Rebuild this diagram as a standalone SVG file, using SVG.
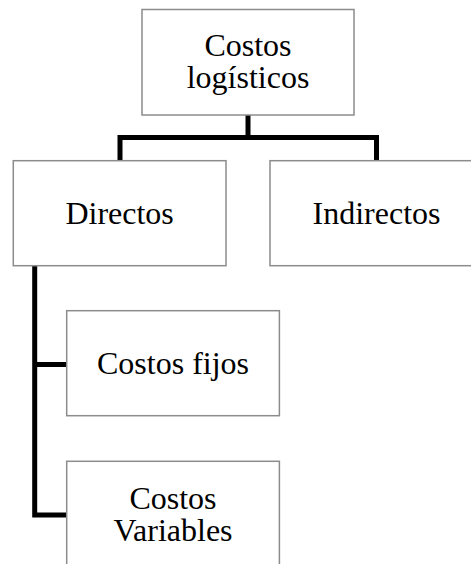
<svg xmlns="http://www.w3.org/2000/svg" width="471" height="564" viewBox="0 0 471 564">
  <style>
    .box { fill: #ffffff; stroke: #8c8c8c; stroke-width: 1.5; }
    .lbl { font-family: "Liberation Serif", "Times New Roman", serif; font-size: 32px; fill: #000000; text-anchor: middle; }
    .conn { fill: none; stroke: #000000; stroke-width: 5; stroke-linejoin: miter; stroke-linecap: butt; }
  </style>
  <rect width="471" height="564" fill="#ffffff"/>

  <!-- connectors -->
  <g id="connectors">
    <path class="conn" d="M248 115 V137.5"/>
    <path class="conn" d="M120 161 V137.5 H376.5 V161"/>
    <path class="conn" d="M34.7 265.5 V515 H67"/>
    <path class="conn" d="M34.7 364.5 H67"/>
  </g>

  <g id="costos-logisticos">
    <rect class="box" x="142" y="9.5" width="212" height="105.5"/>
    <text class="lbl" x="248" y="55.5">Costos</text>
    <text class="lbl" x="248" y="88">logísticos</text>
  </g>

  <g id="directos">
    <rect class="box" x="13.3" y="160.7" width="212.7" height="105"/>
    <text class="lbl" x="119.6" y="223.5">Directos</text>
  </g>

  <g id="indirectos">
    <rect class="box" x="270" y="160.7" width="212.7" height="105"/>
    <text class="lbl" x="376.5" y="223.5">Indirectos</text>
  </g>

  <g id="costos-fijos">
    <rect class="box" x="66.7" y="310.7" width="212.7" height="105"/>
    <text class="lbl" x="173" y="373.5">Costos fijos</text>
  </g>

  <g id="costos-variables">
    <rect class="box" x="66.7" y="461.3" width="212.7" height="105"/>
    <text class="lbl" x="173" y="508.5">Costos</text>
    <text class="lbl" x="173" y="541">Variables</text>
  </g>
</svg>
